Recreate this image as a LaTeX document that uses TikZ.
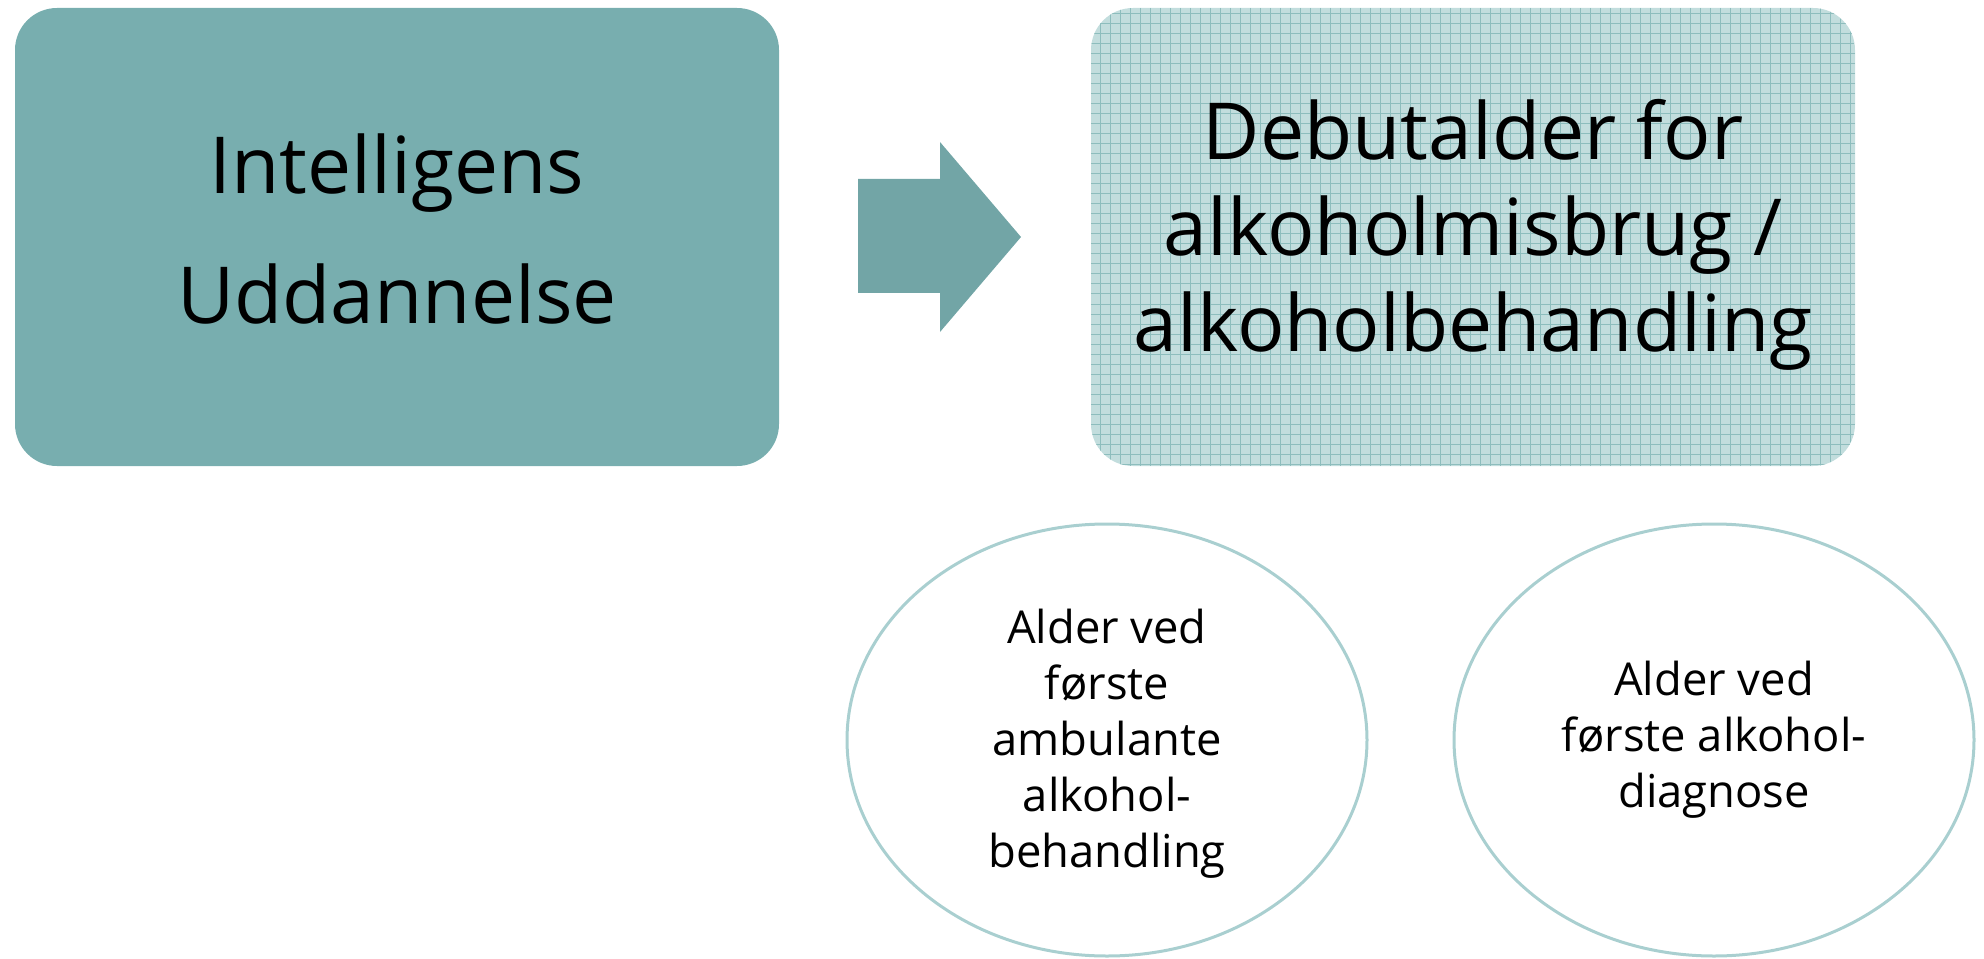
\documentclass[tikz,border=0pt]{standalone}
\usepackage{fontspec}
\setmainfont{Open Sans}
\usetikzlibrary{shapes.geometric}
\definecolor{boxA}{HTML}{78AEAF}
\definecolor{boxB}{HTML}{C2DDDD}
\definecolor{gridc}{HTML}{8DBDBD}
\definecolor{arrowc}{HTML}{72A5A6}
\definecolor{ovalc}{HTML}{A9CFD0}
\begin{document}
\begin{tikzpicture}[x=0.75pt,y=-0.75pt,
  bigbox/.style={rectangle, rounded corners=31.5pt, inner sep=0pt, minimum width=573pt, minimum height=343.5pt},
  bigtext/.style={align=center, inner sep=0pt},
  oval/.style={ellipse, draw=ovalc, line width=2.25pt, inner sep=0pt, align=center, minimum height=324pt, minimum width=390pt, font=\fontsize{34}{42}\selectfont}]
\useasboundingbox (0,0) rectangle (1984,959);
\node[bigbox, fill=boxA] (src) at (397,237) {};
\node[bigbox, fill=boxB] (dst) at (1473,237) {};
\begin{scope}
  \clip[rounded corners=31.5pt] (1091,8) rectangle (1855,466);
  \foreach \x in {1100,1110,...,1850} \draw[gridc, line width=0.75pt] (\x,8) -- (\x,466);
  \foreach \y in {14,24,...,464} \draw[gridc, line width=0.75pt] (1091,\y) -- (1855,\y);
\end{scope}
\node[bigtext, font=\fontsize{59}{98}\selectfont] (srcT) at (397,229) {Intelligens\\Uddannelse};
\node[bigtext, font=\fontsize{59}{72}\selectfont] (dstT) at (1473,235) {Debutalder for\\alkoholmisbrug /\\alkoholbehandling};
\fill[arrowc] (858,179) -- (940,179) -- (940,142) -- (1021,237) -- (940,332) -- (940,293) -- (858,293) -- cycle;
\node[oval] (e1) at (1107,740) {};
\node[oval, draw=none] (e1T) at (1107,744) {Alder ved\\første\\ambulante\\alkohol-\\behandling};
\node[oval] (e2) at (1714,740) {Alder ved\\første alkohol-\\diagnose};
\end{tikzpicture}
\end{document}
